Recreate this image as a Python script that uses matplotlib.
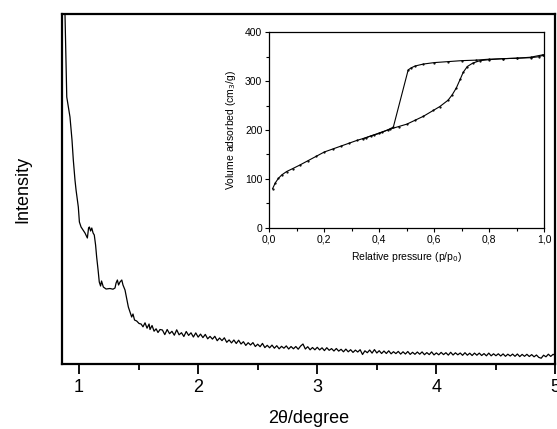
import numpy as np
import matplotlib
matplotlib.use("Agg")
import matplotlib.pyplot as plt
from matplotlib.ticker import MultipleLocator, FuncFormatter

plt.rcParams['font.family'] = ['Liberation Sans', 'DejaVu Sans']

# low angle XRD pattern: steep part + the two reflections
head_2theta = [0.870, 0.882, 0.897, 0.908, 0.924, 0.941, 0.952, 0.966, 0.975, 0.994,
               1.003, 1.017, 1.034, 1.050, 1.070, 1.080, 1.087, 1.097, 1.107, 1.118,
               1.128, 1.139, 1.148, 1.160, 1.170, 1.181, 1.189, 1.204, 1.227, 1.260,
               1.285, 1.302, 1.311, 1.322, 1.332, 1.344, 1.359, 1.369, 1.386, 1.399,
               1.414, 1.428, 1.442, 1.453, 1.466, 1.484, 1.504, 1.521, 1.537, 1.554,
               1.571, 1.588, 1.596, 1.613, 1.630, 1.647, 1.663, 1.680]
head_intensity = [4200, 3500, 2670, 2590, 2470, 2240, 2040, 1840, 1740, 1570,
                  1420, 1370, 1340, 1310, 1260, 1360, 1370, 1330, 1360, 1310,
                  1290, 1190, 1070, 940, 820, 780, 830, 770, 750, 755,
                  748, 760, 810, 840, 790, 820, 840, 790, 740, 660,
                  570, 520, 470, 500, 440, 430, 405, 400, 372, 412,
                  358, 400, 345, 385, 328, 352, 315, 345]

# noisy tail of the pattern, 2theta = 1.70 ... 5.00 in 0.02 steps
tail_intensity = [340, 294, 345, 303, 327, 288, 342, 292, 313, 275,
                  325, 286, 312, 270, 311, 269, 299, 264, 296, 252,
                  276, 249, 277, 233, 260, 234, 262, 217, 241, 211,
                  240, 205, 238, 200, 223, 186, 213, 190, 214, 175,
                  198, 173, 206, 164, 187, 162, 189, 158, 183, 152,
                  177, 158, 181, 150, 175, 152, 175, 148, 179, 200,
                  150, 173, 142, 165, 142, 167, 141, 162, 134, 163,
                  137, 154, 130, 155, 129, 147, 122, 149, 122, 143,
                  116, 139, 120, 143, 95, 132, 113, 140, 109, 144,
                  110, 133, 105, 130, 105, 132, 102, 123, 104, 126,
                  99, 122, 100, 125, 96, 117, 97, 120, 98, 121,
                  93, 114, 94, 121, 91, 111, 92, 116, 94, 113,
                  89, 117, 90, 112, 92, 110, 87, 113, 88, 108,
                  85, 109, 88, 109, 85, 104, 82, 109, 82, 102,
                  83, 102, 80, 101, 77, 98, 80, 99, 77, 100,
                  74, 96, 77, 97, 75, 94, 72, 90, 66, 58,
                  88, 72, 98, 76, 97, 85]
tail_2theta = np.linspace(1.70, 5.00, len(tail_intensity))

# N2 isotherm (inset)
ads_p = [0.012, 0.022, 0.033, 0.045, 0.063, 0.085, 0.11, 0.14, 0.17, 0.20, 0.23, 0.26,
         0.29, 0.32, 0.35, 0.38, 0.41, 0.44, 0.47, 0.50, 0.53, 0.56, 0.596, 0.62, 0.65,
         0.665, 0.68, 0.695, 0.705, 0.72, 0.74, 0.766, 0.80, 0.85, 0.90, 0.95, 0.98, 0.995]
ads_v = [80, 92, 101, 108, 115, 121, 128, 137, 146, 155, 161, 167,
         173, 179, 184, 190, 196, 202, 207, 212, 220, 228, 240, 248, 261,
         272, 286, 305, 318, 330, 337, 342, 344, 346, 347, 348, 350, 353]
des_p = [0.995, 0.95, 0.90, 0.85, 0.80, 0.75, 0.70, 0.65, 0.60, 0.56, 0.53, 0.515,
         0.505, 0.451, 0.43, 0.40, 0.37, 0.34]
des_v = [354, 349, 347, 346, 345, 343, 342, 340, 338, 335, 331, 327,
         323, 206, 200, 193, 188, 182]

xrd_x = list(head_2theta) + list(tail_2theta)
xrd_y = list(head_intensity) + list(tail_intensity)

fig = plt.figure(figsize=(5.57, 4.29), dpi=100)
ax = fig.add_axes([0.1113, 0.1515, 0.886, 0.8159])
ax.plot(xrd_x, xrd_y, color='black', lw=0.9)
ax.set_xlim(0.857, 5.0)
ax.set_ylim(0, 3500)
ax.set_yticks([])
ax.xaxis.set_major_locator(MultipleLocator(1))
ax.xaxis.set_minor_locator(MultipleLocator(0.5))
ax.tick_params(axis='x', which='major', direction='out', length=7, width=1.3,
               labelsize=13, pad=4)
ax.tick_params(axis='x', which='minor', direction='out', length=4, width=1.3)
for s in ax.spines.values():
    s.set_linewidth(1.6)
ax.set_xlabel('2θ/degree', fontsize=13, labelpad=10)
ax.set_ylabel('Intensity', fontsize=13, labelpad=22)

ins = fig.add_axes([0.4835, 0.4692, 0.4937, 0.4555])
ins.plot(ads_p, ads_v, color='black', lw=0.8, marker='.', ms=1.2)
ins.plot(des_p, des_v, color='black', lw=0.8, marker='.', ms=1.2)
ins.set_xlim(0, 1.0)
ins.set_ylim(0, 400)
ins.xaxis.set_major_locator(MultipleLocator(0.2))
ins.xaxis.set_minor_locator(MultipleLocator(0.1))
ins.yaxis.set_major_locator(MultipleLocator(100))
ins.yaxis.set_minor_locator(MultipleLocator(50))
ins.xaxis.set_major_formatter(FuncFormatter(lambda v, p: f'{v:.1f}'.replace('.', ',')))
ins.tick_params(which='major', direction='out', length=3, width=0.8, labelsize=7.5, pad=2)
ins.tick_params(which='minor', direction='out', length=2, width=0.8)
for s in ins.spines.values():
    s.set_linewidth(0.9)
ins.set_xlabel('Relative pressure (p/p$_0$)', fontsize=7.5, labelpad=4)
ins.set_ylabel('Volume adsorbed (cm$_3$/g)', fontsize=7.5, labelpad=5)

fig.savefig('out.png', dpi=100)
